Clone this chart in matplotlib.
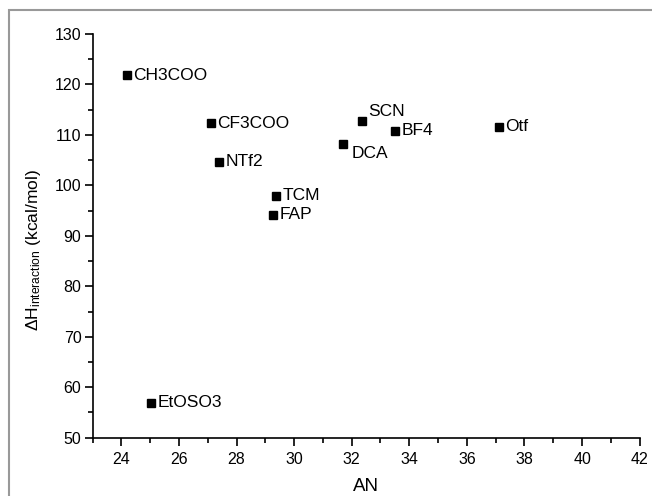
import matplotlib
matplotlib.use("Agg")
import matplotlib.pyplot as plt
from matplotlib.ticker import MultipleLocator
from matplotlib.patches import Rectangle

# anion data
anions = ["CH3COO", "CF3COO", "NTf2", "TCM", "FAP", "SCN", "BF4", "DCA", "Otf", "EtOSO3"]
an_values = [24.2, 27.1, 27.4, 29.37, 29.28, 32.37, 33.5, 31.7, 37.1, 25.03]
dh_values = [121.8, 112.3, 104.7, 97.9, 94.2, 112.8, 110.8, 108.2, 111.6, 56.9]

# label placement: (dx, dy) in points
label_pos = {"SCN": (4.5, 6.5), "DCA": (6, -6.5)}

plt.rcParams['font.family'] = ['Liberation Sans', 'DejaVu Sans']
plt.rcParams['mathtext.fontset'] = 'custom'
plt.rcParams['mathtext.rm'] = 'Liberation Sans'
plt.rcParams['mathtext.it'] = 'Liberation Sans:italic'

fig = plt.figure(figsize=(6.52, 4.96), dpi=100)
ax = fig.add_axes([0.1419, 0.1175, 0.8392, 0.814])

ax.plot(an_values, dh_values, 's', color='black', markersize=5.6, linestyle='none')

for name, x, y in zip(anions, an_values, dh_values):
    dx, dy = label_pos.get(name, (4.5, 0))
    ax.annotate(name, (x, y), xytext=(dx, dy), textcoords='offset points',
                fontsize=12.5, va='center', ha='left')

ax.set_xlim(23, 42)
ax.set_ylim(50, 130)
ax.xaxis.set_major_locator(MultipleLocator(2))
ax.xaxis.set_minor_locator(MultipleLocator(1))
ax.yaxis.set_major_locator(MultipleLocator(10))
ax.yaxis.set_minor_locator(MultipleLocator(5))
ax.tick_params(which='major', direction='out', length=6, width=1.2, labelsize=11.5)
ax.tick_params(axis='x', which='major', pad=4)
ax.tick_params(axis='y', which='major', pad=2)
ax.tick_params(which='minor', direction='out', length=3.5, width=1.2)

ax.spines['top'].set_visible(False)
ax.spines['right'].set_visible(False)
ax.spines['left'].set_linewidth(1.2)
ax.spines['bottom'].set_linewidth(1.2)

ax.set_xlabel("AN", fontsize=13.5, labelpad=8)
ax.set_ylabel(r"$\Delta$H$_{\mathrm{interaction}}$ (kcal/mol)", fontsize=12.5)
ax.yaxis.set_label_coords(-0.09, 0.465)

# gray frame around the figure (only left and top edges visible)
fig.patches.append(Rectangle((9 / 652, -0.1), 1.2, (486 / 496) + 0.1,
                             transform=fig.transFigure, fill=False,
                             edgecolor='#999999', linewidth=1.5))

fig.savefig("out.png", dpi=100)
